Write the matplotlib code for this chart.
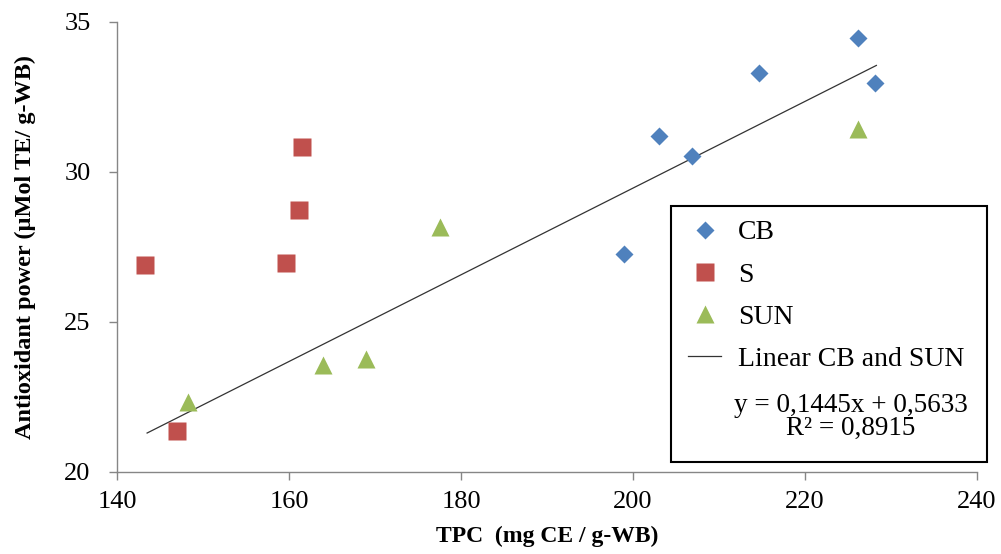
import numpy as np
import matplotlib
matplotlib.use("Agg")
import matplotlib.pyplot as plt
from matplotlib.lines import Line2D
from matplotlib.patches import Rectangle

plt.rcParams['font.family'] = ['Liberation Serif', 'DejaVu Serif']

# data
cb_x = [198.9, 203.0, 206.9, 214.7, 226.2, 228.1]
cb_y = [27.27, 31.20, 30.53, 33.30, 34.48, 32.97]
s_x = [143.3, 147.0, 159.7, 161.2, 161.5]
s_y = [26.91, 21.37, 26.97, 28.74, 30.83]
sun_x = [148.3, 163.9, 168.9, 177.6, 226.2]
sun_y = [22.32, 23.56, 23.76, 28.16, 31.43]
slope = 0.1445
intercept = 0.5633
r2 = 0.8915
trend_x = np.array([143.5, 228.3])

blue = '#4F81BD'
red = '#C0504D'
green = '#9BBB59'
grey = '#868686'

W, H = 1001, 554
fig = plt.figure(figsize=(W / 100, H / 100), dpi=100)
ax = fig.add_axes([117 / W, 1 - 472 / H, (977 - 117) / W, (472 - 22) / H])

ax.plot(trend_x, slope * trend_x + intercept, color='#333333', lw=0.9, zorder=2)
ax.plot(cb_x, cb_y, 'D', ms=8.8, color=blue, mec='none', zorder=3)
ax.plot(s_x, s_y, 's', ms=12.5, color=red, mec='none', zorder=3)
ax.plot(sun_x, sun_y, '^', ms=12.5, color=green, mec='none', zorder=3)

ax.set_xlim(140, 240)
ax.set_ylim(20, 35)
ax.set_xticks(np.arange(140, 241, 20))
ax.set_yticks(np.arange(20, 36, 5))
for side in ['top', 'right']:
    ax.spines[side].set_visible(False)
for side in ['left', 'bottom']:
    ax.spines[side].set_color(grey)
    ax.spines[side].set_linewidth(1.0)
ax.tick_params(direction='out', length=6, width=1.0, color=grey, labelsize=19)
ax.tick_params(axis='y', pad=13)
ax.tick_params(axis='x', pad=8)

ax.set_xlabel('TPC  (mg CE / g-WB)', fontsize=17, fontweight='bold', labelpad=9)
ax.set_ylabel('Antioxidant power (\u00b5Mol TE/ g-WB)', fontsize=17.5, fontweight='bold', labelpad=20)

# legend box
box = Rectangle((671 / W, 1 - 462 / H), (987 - 671) / W, (462 - 206) / H,
                transform=fig.transFigure, facecolor='white', edgecolor='black',
                lw=1.5, clip_on=False, zorder=4)
ax.add_patch(box)

handles = [
    Line2D([], [], ls='none', marker='D', ms=8.8, color=blue, mec='none'),
    Line2D([], [], ls='none', marker='s', ms=12.5, color=red, mec='none'),
    Line2D([], [], ls='none', marker='^', ms=12.5, color=green, mec='none'),
    Line2D([], [], color='#333333', lw=0.9),
]
labels = ['CB', 'S', 'SUN', 'Linear CB and SUN']
leg = ax.legend(handles, labels, loc='upper left',
                bbox_to_anchor=(688 / W, 1 - 220 / H), bbox_transform=fig.transFigure,
                frameon=False, fontsize=20, handlelength=1.2, handletextpad=0.6,
                labelspacing=0.6, borderpad=0, borderaxespad=0)
leg.set_zorder(5)

ax.text(851 / W, 1 - 417 / H, 'y = 0,1445x + 0,5633\nR\u00b2 = 0,8915',
        transform=fig.transFigure, ha='center', va='center', multialignment='center',
        fontsize=19.5, linespacing=0.9, zorder=6)

fig.savefig('out.png', dpi=100)
